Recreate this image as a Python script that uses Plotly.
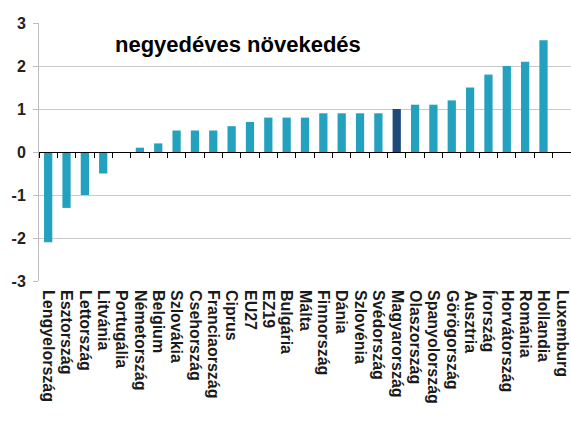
import plotly.graph_objects as go

# Quarterly GDP growth by country (%)
countries = [
    "Lengyelország", "Esztország", "Lettország", "Litvánia", "Portugália",
    "Németország", "Belgium", "Szlovákia", "Csehország", "Franciaország",
    "Ciprus", "EU27", "EZ19", "Bulgária", "Málta", "Finnország", "Dánia",
    "Szlovénia", "Svédország", "Magyarország", "Olaszország", "Spanyolország",
    "Görögország", "Ausztria", "Írország", "Horvátország", "Románia",
    "Hollandia", "Luxemburg",
]
growth = [
    -2.1, -1.3, -1.0, -0.5, 0.0,
    0.1, 0.2, 0.5, 0.5, 0.5,
    0.6, 0.7, 0.8, 0.8, 0.8, 0.9, 0.9,
    0.9, 0.9, 1.0, 1.1, 1.1,
    1.2, 1.5, 1.8, 2.0, 2.1,
    2.6, 0.0,
]
y_ticks = [-3, -2, -1, 0, 1, 2, 3]
y_tick_labels = ["-3", "-2", "-1", "0", "1", "2", "3"]
highlight = "Magyarország"
title_text = "negyedéves növekedés"

TEAL = "#23a1bf"
NAVY = "#1d4a78"
colors = [NAVY if c == highlight else TEAL for c in countries]

fig = go.Figure()
fig.add_trace(go.Bar(
    x=countries, y=growth, marker=dict(color=colors, line=dict(width=0)),
    width=0.45, xaxis="x", yaxis="y", hoverinfo="x+y",
))
# invisible companion trace so the zero-line axis gets drawn
fig.add_trace(go.Scatter(
    x=countries, y=[0] * len(countries), mode="markers",
    marker=dict(size=0.1, opacity=0), xaxis="x2", yaxis="y",
    hoverinfo="skip", showlegend=False,
))

fig.update_layout(
    width=571, height=421,
    margin=dict(l=39, r=0, t=23, b=140),
    paper_bgcolor="white", plot_bgcolor="white",
    showlegend=False,
    font=dict(family="Arial, Liberation Sans, sans-serif", color="black"),
    xaxis=dict(
        type="category", categoryorder="array", categoryarray=countries,
        range=[-0.5, len(countries) - 0.5],
        tickmode="array", tickvals=countries, ticktext=countries,
        tickangle=90, ticks="", showline=False, showgrid=False,
        zeroline=False, ticklabelstandoff=8,
        tickfont=dict(size=16, color="#1a1a1a", weight="bold"),
    ),
    xaxis2=dict(
        type="category", categoryorder="array", categoryarray=countries,
        overlaying="x", matches="x", anchor="free", position=0.5,
        showline=True, linecolor="black", linewidth=1,
        ticks="outside", tickson="boundaries", ticklen=5,
        tickcolor="black", tickwidth=1,
        showticklabels=False, showgrid=False, zeroline=False,
    ),
    yaxis=dict(
        range=[-3, 3], tickmode="array", tickvals=y_ticks, ticktext=y_tick_labels,
        showgrid=True, gridcolor="#c9c9c9", gridwidth=1,
        showline=True, linecolor="#bdbdbd", linewidth=1,
        ticks="outside", ticklen=5, tickcolor="#bdbdbd",
        zeroline=False, ticklabelstandoff=4,
        tickfont=dict(size=16, color="#222222", weight="bold"),
    ),
    annotations=[dict(
        text="<b>" + title_text + "</b>",
        xref="paper", yref="paper", x=0.139, y=0.915,
        xanchor="left", yanchor="middle", showarrow=False,
        font=dict(size=22, color="black"),
    )],
)

fig.write_html("out.html")
